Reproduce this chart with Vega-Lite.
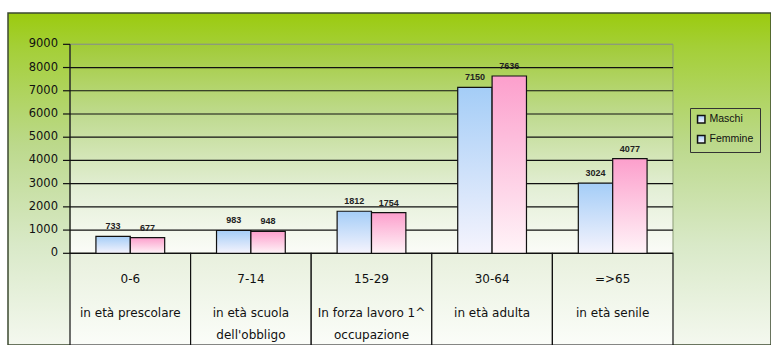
{
  "$schema": "https://vega.github.io/schema/vega-lite/v6.json",
  "width": 763,
  "height": 332,
  "autosize": {"type": "none"},
  "padding": {"left": 8, "top": 13, "right": 0, "bottom": 0},
  "background": "white",
  "view": {
    "fill": {"gradient": "linear", "x1": 0, "y1": 0, "x2": 0, "y2": 1, "stops": [
      {"offset": 0, "color": "#9bcb0e"},
      {"offset": 0.1, "color": "#a4cf36"},
      {"offset": 0.4, "color": "#bcd98c"},
      {"offset": 0.7, "color": "#d9e9c8"},
      {"offset": 1, "color": "#f4f8ef"}
    ]},
    "stroke": "#3c4a30",
    "strokeWidth": 1.5
  },
  "datasets": {
    "pop": [
      {"fascia": "0-6", "desc": "in età prescolare", "sesso": "Maschi", "valore": 733},
      {"fascia": "0-6", "desc": "in età prescolare", "sesso": "Femmine", "valore": 677},
      {"fascia": "7-14", "desc": "in età scuola\ndell'obbligo", "sesso": "Maschi", "valore": 983},
      {"fascia": "7-14", "desc": "in età scuola\ndell'obbligo", "sesso": "Femmine", "valore": 948},
      {"fascia": "15-29", "desc": "In forza lavoro 1^\noccupazione", "sesso": "Maschi", "valore": 1812},
      {"fascia": "15-29", "desc": "In forza lavoro 1^\noccupazione", "sesso": "Femmine", "valore": 1754},
      {"fascia": "30-64", "desc": "in età adulta", "sesso": "Maschi", "valore": 7150},
      {"fascia": "30-64", "desc": "in età adulta", "sesso": "Femmine", "valore": 7636},
      {"fascia": "=>65", "desc": "in età senile", "sesso": "Maschi", "valore": 3024},
      {"fascia": "=>65", "desc": "in età senile", "sesso": "Femmine", "valore": 4077}
    ],
    "grid": [
      {"v": 0}, {"v": 1000}, {"v": 2000}, {"v": 3000}, {"v": 4000},
      {"v": 5000}, {"v": 6000}, {"v": 7000}, {"v": 8000}, {"v": 9000}
    ],
    "one": [{"k": 1}]
  },
  "data": {"name": "pop"},
  "layer": [
    {
      "data": {"name": "one"},
      "mark": {"type": "rect", "stroke": "#8c9c78", "strokeWidth": 1,
        "fill": {"gradient": "linear", "x1": 0, "y1": 0, "x2": 0, "y2": 1, "stops": [
          {"offset": 0, "color": "#a1cb36"},
          {"offset": 0.35, "color": "#c0db92"},
          {"offset": 0.7, "color": "#e4efd7"},
          {"offset": 1, "color": "#fbfcf8"}
        ]}},
      "encoding": {
        "x": {"datum": "0-6", "type": "nominal", "bandPosition": 0,
          "scale": {"type": "band", "domain": ["0-6", "7-14", "15-29", "30-64", "=>65"], "paddingInner": 0, "paddingOuter": 0.6634, "align": 0.3875},
          "axis": null},
        "x2": {"datum": "=>65", "bandPosition": 1},
        "y": {"datum": 0, "type": "quantitative",
          "scale": {"domain": [-3949, 10349], "nice": false, "zero": false},
          "axis": null},
        "y2": {"datum": 9000}
      }
    },
    {
      "transform": [{"filter": "datum.sesso === 'Maschi'"}],
      "mark": {"type": "rect", "stroke": "#111", "strokeWidth": 1.2,
        "fill": {"gradient": "linear", "x1": 0, "y1": 0, "x2": 0, "y2": 1, "stops": [
          {"offset": 0, "color": "#e8f0dd"},
          {"offset": 1, "color": "#fbfdf9"}
        ]}},
      "encoding": {
        "x": {"field": "fascia", "type": "nominal", "axis": null},
        "y": {"datum": 0, "type": "quantitative", "axis": null},
        "y2": {"datum": -3949}
      }
    },
    {
      "data": {"name": "grid"},
      "mark": {"type": "rule", "strokeWidth": 1.2},
      "encoding": {
        "x": {"datum": "0-6", "type": "nominal", "bandPosition": 0, "axis": null},
        "x2": {"datum": "=>65", "bandPosition": 1},
        "y": {"field": "v", "type": "quantitative", "axis": null},
        "stroke": {"condition": {"test": "datum.v === 9000", "value": "#8c9c78"}, "value": "#111"}
      }
    },
    {
      "data": {"name": "grid"},
      "mark": {"type": "rule", "strokeWidth": 1.2, "stroke": "#111"},
      "encoding": {
        "x": {"datum": "0-6", "type": "nominal", "bandPosition": -0.058, "axis": null},
        "x2": {"datum": "0-6", "bandPosition": 0},
        "y": {"field": "v", "type": "quantitative", "axis": null}
      }
    },
    {
      "data": {"name": "grid"},
      "mark": {"type": "text", "align": "right", "baseline": "middle", "dx": -12, "font": "DejaVu Sans", "fontSize": 11.5, "fill": "#111"},
      "encoding": {
        "x": {"datum": "0-6", "type": "nominal", "bandPosition": 0, "axis": null},
        "y": {"field": "v", "type": "quantitative", "axis": null},
        "text": {"field": "v", "type": "quantitative", "format": "d"}
      }
    },
    {
      "data": {"name": "one"},
      "mark": {"type": "rule", "stroke": "#111", "strokeWidth": 1.2},
      "encoding": {
        "x": {"datum": "0-6", "type": "nominal", "bandPosition": 0, "axis": null},
        "y": {"datum": 0, "type": "quantitative", "axis": null},
        "y2": {"datum": 9000}
      }
    },
    {
      "transform": [{"filter": "datum.sesso === 'Maschi'"}],
      "mark": {"type": "bar", "strokeWidth": 1.2,
        "fill": {"gradient": "linear", "x1": 0, "y1": 0, "x2": 0, "y2": 1, "stops": [
          {"offset": 0, "color": "#a4cdf7"}, {"offset": 1, "color": "#f6f4fd"}]}},
      "encoding": {
        "x": {"field": "fascia", "type": "nominal", "axis": null},
        "xOffset": {"field": "sesso", "type": "nominal",
          "scale": {"domain": ["Maschi", "Femmine"], "paddingInner": 0, "paddingOuter": 0.754}},
        "y": {"field": "valore", "type": "quantitative", "stack": null, "axis": null},
        "stroke": {"field": "sesso", "type": "nominal",
          "scale": {"domain": ["Maschi", "Femmine"], "range": ["#111111", "#111111"]},
          "legend": {"orient": "none", "legendX": 682, "legendY": 95, "title": null,
            "symbolType": "square", "symbolSize": 55, "symbolStrokeWidth": 1.5, "symbolFillColor": "#f5f5fb",
            "labelFont": "Liberation Sans", "labelFontSize": 10.5, "labelColor": "#111", "labelOffset": 3,
            "strokeColor": "#333", "padding": 6, "rowPadding": 6,
            "encode": {"symbols": {"update": {"fill": {"value": "#f5f5fb"}, "stroke": {"signal": "datum.value === 'Maschi' ? '#1c2a6a' : '#6a1c3a'"}}}}}
        }
      }
    },
    {
      "transform": [{"filter": "datum.sesso === 'Femmine'"}],
      "mark": {"type": "bar", "strokeWidth": 1.2,
        "fill": {"gradient": "linear", "x1": 0, "y1": 0, "x2": 0, "y2": 1, "stops": [
          {"offset": 0, "color": "#fc9fcc"}, {"offset": 1, "color": "#fff4f8"}]}},
      "encoding": {
        "x": {"field": "fascia", "type": "nominal", "axis": null},
        "xOffset": {"field": "sesso", "type": "nominal"},
        "y": {"field": "valore", "type": "quantitative", "stack": null, "axis": null},
        "stroke": {"field": "sesso", "type": "nominal"}
      }
    },
    {
      "mark": {"type": "text", "baseline": "bottom", "dy": -5, "font": "Liberation Sans", "fontWeight": "bold", "fontSize": 9, "fill": "#222"},
      "encoding": {
        "x": {"field": "fascia", "type": "nominal", "axis": null},
        "xOffset": {"field": "sesso", "type": "nominal"},
        "y": {"field": "valore", "type": "quantitative", "axis": null},
        "text": {"field": "valore", "type": "quantitative", "format": "d"}
      }
    },
    {
      "transform": [{"filter": "datum.sesso === 'Maschi'"}],
      "mark": {"type": "text", "baseline": "alphabetic", "font": "DejaVu Sans", "fontSize": 12, "fill": "#111"},
      "encoding": {
        "x": {"field": "fascia", "type": "nominal", "axis": null},
        "y": {"datum": -1279, "type": "quantitative", "axis": null},
        "text": {"field": "fascia"}
      }
    },
    {
      "transform": [{"filter": "datum.sesso === 'Maschi'"}],
      "mark": {"type": "text", "baseline": "alphabetic", "font": "DejaVu Sans", "fontSize": 12, "fill": "#111", "lineBreak": "\n", "lineHeight": 22},
      "encoding": {
        "x": {"field": "fascia", "type": "nominal", "axis": null},
        "y": {"datum": -2743, "type": "quantitative", "axis": null},
        "text": {"field": "desc"}
      }
    }
  ]
}
